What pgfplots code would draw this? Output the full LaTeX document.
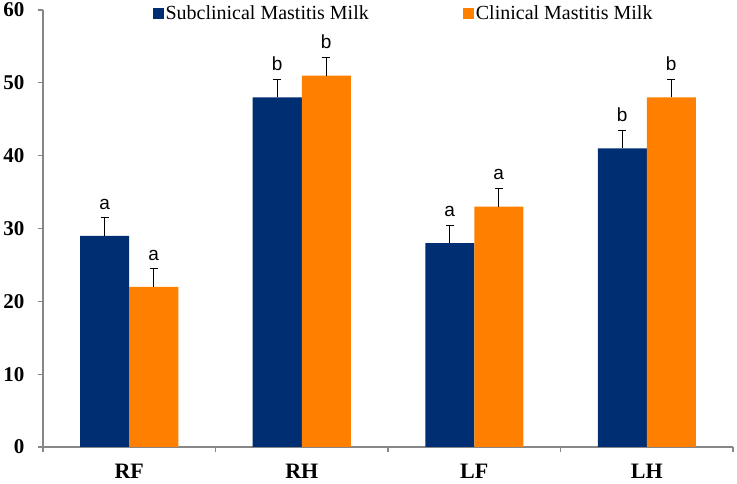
\documentclass[border=0pt]{standalone}
\usepackage{fontspec}
\setmainfont{Liberation Serif}
\newfontfamily\tnr{Liberation Serif}
\newfontfamily\arial{Liberation Sans}
\usepackage{pgfplots}
\usepackage{pgfplotstable}
\pgfplotsset{compat=1.18}

\definecolor{subblue}{RGB}{0,46,114}
\definecolor{clinorange}{RGB}{255,127,0}
\definecolor{axgray}{RGB}{135,135,135}

% x, mean, error, letter
\pgfplotstableread{
x y err lab
0 29 2.5 a
1 48 2.5 b
2 28 2.5 a
3 41 2.5 b
}\subclin
\pgfplotstableread{
x y err lab
0 22 2.5 a
1 51 2.5 b
2 33 2.5 a
3 48 2.5 b
}\clin

\begin{document}
\begin{tikzpicture}
\useasboundingbox (-43pt,-37pt) rectangle (694pt,447pt);
\begin{axis}[
  at={(0,0)}, anchor=south west,
  scale only axis,
  width=690pt, height=437pt,
  ybar=0pt,
  bar width=49pt,
  xmin=-0.5, xmax=3.5,
  ymin=0, ymax=60,
  ytick={0,10,...,60},
  xtick={-0.5,0.5,1.5,2.5,3.5},
  x tick label as interval,
  xticklabels={RF,RH,LF,LH},
  axis x line*=bottom,
  axis y line*=left,
  axis line style={draw=axgray, line width=1.2pt, -},
  tick style={draw=axgray, line width=1.2pt},
  tick align=outside,
  major tick length=5pt,
  /pgf/number format/assume math mode=true,
  y tick label style={font=\tnr\bfseries\fontsize{21}{25}\selectfont, xshift=-10pt},
  x tick label style={font=\tnr\bfseries\fontsize{22}{26}\selectfont, yshift=-11pt, inner sep=1pt},
  nodes near coords={\arial\pgfplotspointmeta},
  point meta=explicit symbolic,
  every node near coord/.append style={font=\fontsize{19}{22}\selectfont, anchor=south, yshift=23pt, black},
  legend style={draw=none, fill=none, at={(0.5225,0.993)}, anchor=center,
    font=\tnr\fontsize{20}{24}\selectfont, legend columns=2,
    /tikz/every even column/.append style={column sep=92pt}},
  legend image code/.code={\fill[#1] (0pt,-5.5pt) rectangle (11pt,5.5pt);},
  error bars/y dir=plus,
  error bars/y explicit,
  error bars/error bar style={black, line width=0.7pt},
  error bars/error mark options={rotate=90, mark size=4pt, black, line width=0.7pt},
]
\addplot[fill=subblue, draw=none] table[x=x, y=y, y error=err, meta=lab] {\subclin};
\addplot[fill=clinorange, draw=none] table[x=x, y=y, y error=err, meta=lab] {\clin};
\legend{Subclinical Mastitis Milk, Clinical Mastitis Milk}
\end{axis}
\end{tikzpicture}
\end{document}
